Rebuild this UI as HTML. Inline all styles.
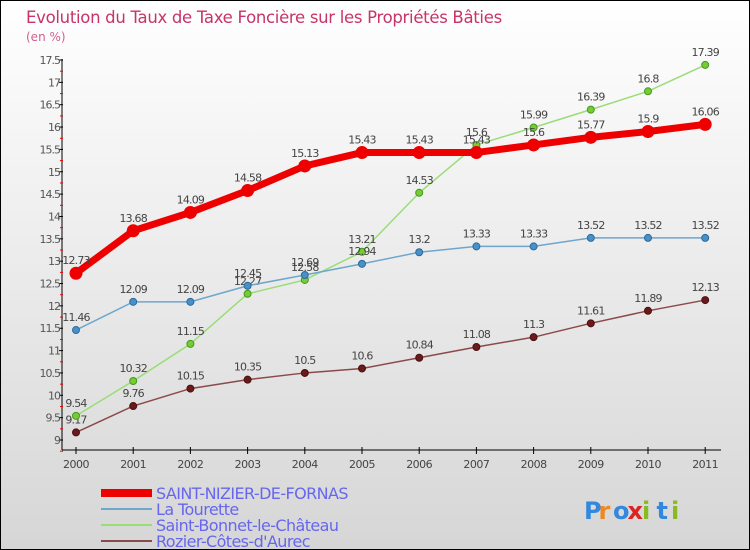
<!DOCTYPE html>
<html><head><meta charset="utf-8"><style>
body{margin:0}
#c{width:750px;height:550px;position:relative;box-sizing:border-box;border:1px solid #000;background:linear-gradient(#ffffff,#d6d6d6);font-family:"DejaVu Sans","Liberation Sans",sans-serif;overflow:hidden}
</style></head><body>
<div id="c">
<svg id="s" width="748" height="548"></svg>
</div>
<script>
const years=["2000","2001","2002","2003","2004","2005","2006","2007","2008","2009","2010","2011"];
const nizier=[12.73,13.68,14.09,14.58,15.13,15.43,15.43,15.43,15.6,15.77,15.9,16.06];
const tourette=[11.46,12.09,12.09,12.45,12.69,12.94,13.2,13.33,13.33,13.52,13.52,13.52];
const bonnet=[9.54,10.32,11.15,12.27,12.58,13.21,14.53,15.6,15.99,16.39,16.8,17.39];
const rozier=[9.17,9.76,10.15,10.35,10.5,10.6,10.84,11.08,11.3,11.61,11.89,12.13];
const yTicks=["9","9.5","10","10.5","11","11.5","12","12.5","13","13.5","14","14.5","15","15.5","16","16.5","17","17.5"];
const NS="http://www.w3.org/2000/svg",s=document.getElementById('s');
const X=i=>75+i*57.2, Y=v=>439-(v-9)*(380/8.5);
function el(t,a,p){const e=document.createElementNS(NS,t);for(const k in a)e.setAttribute(k,a[k]);(p||s).appendChild(e);return e;}
function tx(x,y,str,a){const e=el('text',Object.assign({x:x,y:y},a));e.textContent=str;return e;}
let t=tx(25,22,"Evolution du Taux de Taxe Foncière sur les Propriétés Bâties",{fill:"#c8336a","font-size":"16.5","letter-spacing":"-0.3"});

t=tx(25,40,"(en %)",{fill:"#d06090","font-size":"12"});

let a=el('line',{x1:61,y1:58,x2:61,y2:449,stroke:"#000"});
a=el('line',{x1:61,y1:449,x2:720,y2:449,stroke:"#000"});
yTicks.forEach(v=>{const y=Y(+v);
 el('line',{x1:58,y1:y,x2:62,y2:y,stroke:"#000"});
 el('line',{x1:59,y1:y+11.2,x2:62,y2:y+11.2,stroke:"#e00"});
 t=tx(59,y+4,v,{fill:"#555","font-size":"11","text-anchor":"end","letter-spacing":"-1"});
 });
years.forEach((yr,i)=>{el('line',{x1:X(i),y1:446,x2:X(i),y2:453,stroke:"#000"});
 t=tx(X(i),467,yr,{fill:"#444","font-size":"11","text-anchor":"middle","letter-spacing":"-0.5"});
 });
function series(d,col,w,dot,dotc,r,name){
 const g=el('g',{});
 el('polyline',{points:d.map((v,i)=>X(i)+","+Y(v)).join(" "),fill:"none",stroke:col,"stroke-width":w},g);
 d.forEach((v,i)=>{const c=el('circle',{cx:X(i),cy:Y(v),r:r,fill:dot,stroke:dotc},g);
  
  const l=tx(X(i),Y(v)-9,String(v),{fill:"#444","font-size":"11","text-anchor":"middle","letter-spacing":"-0.8"},g);
  });}
series(rozier,"#8b4a4a",1.5,"#6a1a1a","#4a1010",3.5,"series-rozier");
series(bonnet,"#99dd77",1.5,"#77cc33","#449922",3.5,"series-bonnet");
series(tourette,"#6ea6cc",1.5,"#4a90c8","#2a6a99",3.5,"series-tourette");
series(nizier,"#ee0000",7,"#ee0000","#ee0000",6,"series-nizier");
const leg=[["SAINT-NIZIER-DE-FORNAS","#ee0000",8],["La Tourette","#6ea6cc",2],["Saint-Bonnet-le-Château","#99dd77",2],["Rozier-Côtes-d'Aurec","#8b4a4a",2]];
leg.forEach((l,i)=>{const y=492+i*16;const g=el('g',{});
 el('line',{x1:100,y1:y,x2:151,y2:y,stroke:l[1],"stroke-width":l[2]},g);
 tx(155,y+6,l[0],{fill:"#6666ee","font-size":"16","letter-spacing":"-0.6"},g);});
const p=el('g',{});
const cols=["#3388dd","#ee8822","#3388dd","#dd2222","#88bb22","#3388dd","#88bb22"];
"Proxiti".split("").forEach((ch,i)=>tx(583+i*14.5,518,ch,{fill:cols[i],"font-size":"24","font-weight":"bold"},p));
</script>
</body></html>
